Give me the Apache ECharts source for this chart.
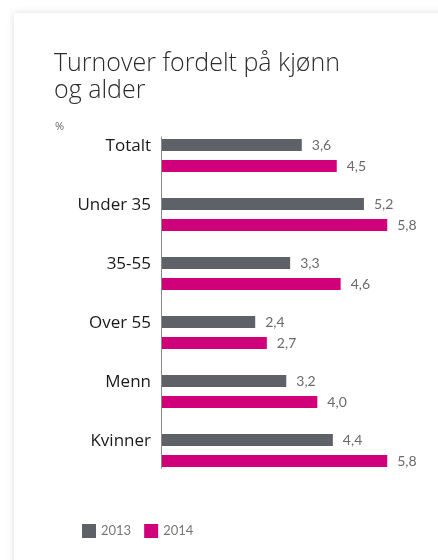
<!DOCTYPE html>
<html>
<head>
<meta charset="utf-8">
<script src="https://cdn.jsdelivr.net/npm/echarts@6/dist/echarts.min.js"></script>
<style>
html,body{margin:0;padding:0;background:#fff;width:438px;height:560px;overflow:hidden;}
#card{position:absolute;left:14px;top:13px;width:520px;height:640px;background:#fff;box-shadow:0 0 8px rgba(0,0,0,0.13);}
#chart{position:absolute;left:0;top:0;width:438px;height:560px;}
</style>
</head>
<body>
<div id="card"></div>
<div id="chart"></div>
<script>
const categories = ['Totalt', 'Under 35', '35-55', 'Over 55', 'Menn', 'Kvinner'];
const values2013 = [3.6, 5.2, 3.3, 2.4, 3.2, 4.4];
const values2014 = [4.5, 5.8, 4.6, 2.7, 4.0, 5.8];
const seriesNames = ['2013', '2014'];
const titleText = 'Turnover fordelt på kjønn\nog alder';
const unitText = '%';

const chart = echarts.init(document.getElementById('chart'), null, {renderer: 'canvas'});
const fmt = p => p.value.toFixed(1).replace('.', ',');
const labelStyle = {show: true, position: 'right', distance: 10, formatter: fmt, color: '#6a6a6a', fontSize: 14, fontFamily: 'Lato, "Open Sans", sans-serif'};

chart.setOption({
  backgroundColor: 'transparent',
  animation: false,
  title: [{
    text: titleText, left: 49, top: 45,
    textStyle: {fontSize: 25, fontWeight: 300, color: '#2b2b2b', lineHeight: 27, fontFamily: '"Open Sans", Lato, sans-serif'}
  }, {
    text: unitText, left: 50, top: 116,
    textStyle: {fontSize: 11, fontWeight: 'normal', color: '#666', fontFamily: '"Open Sans", sans-serif'}
  }],
  legend: {
    left: 77, top: 519, itemWidth: 14, itemHeight: 14, itemGap: 13,
    icon: 'rect',
    textStyle: {fontSize: 13, color: '#777', fontFamily: 'Lato, "Open Sans", sans-serif'},
    data: seriesNames
  },
  grid: {left: 162, right: 43, top: 126, bottom: 80, containLabel: false},
  xAxis: {type: 'value', min: 0, max: 6, show: false},
  yAxis: {
    type: 'category', data: categories, inverse: true,
    axisLine: {show: false}, axisTick: {show: false},
    axisLabel: {margin: 11, fontSize: 17, color: '#1a1a1a', verticalAlign: 'bottom', lineHeight: 19, fontFamily: '"Open Sans", Lato, sans-serif'}
  },
  series: [{
    name: seriesNames[0], type: 'bar', data: values2013, barWidth: 12, barGap: '75%',
    itemStyle: {color: '#5f6168'}, label: labelStyle
  }, {
    name: seriesNames[1], type: 'bar', data: values2014, barWidth: 12, barGap: '75%',
    itemStyle: {color: '#d0007b'}, label: labelStyle
  }]
});

const x0 = chart.convertToPixel({xAxisIndex: 0}, 0);
const yFirst = chart.convertToPixel({yAxisIndex: 0}, 0);
const yLast = chart.convertToPixel({yAxisIndex: 0}, categories.length - 1);
chart.setOption({
  graphic: [{
    type: 'line', shape: {x1: x0 - 0.5, y1: yFirst - 19, x2: x0 - 0.5, y2: yLast + 18},
    style: {stroke: '#8a8a8a', lineWidth: 1}, z: 10
  }]
});
</script>
</body>
</html>
